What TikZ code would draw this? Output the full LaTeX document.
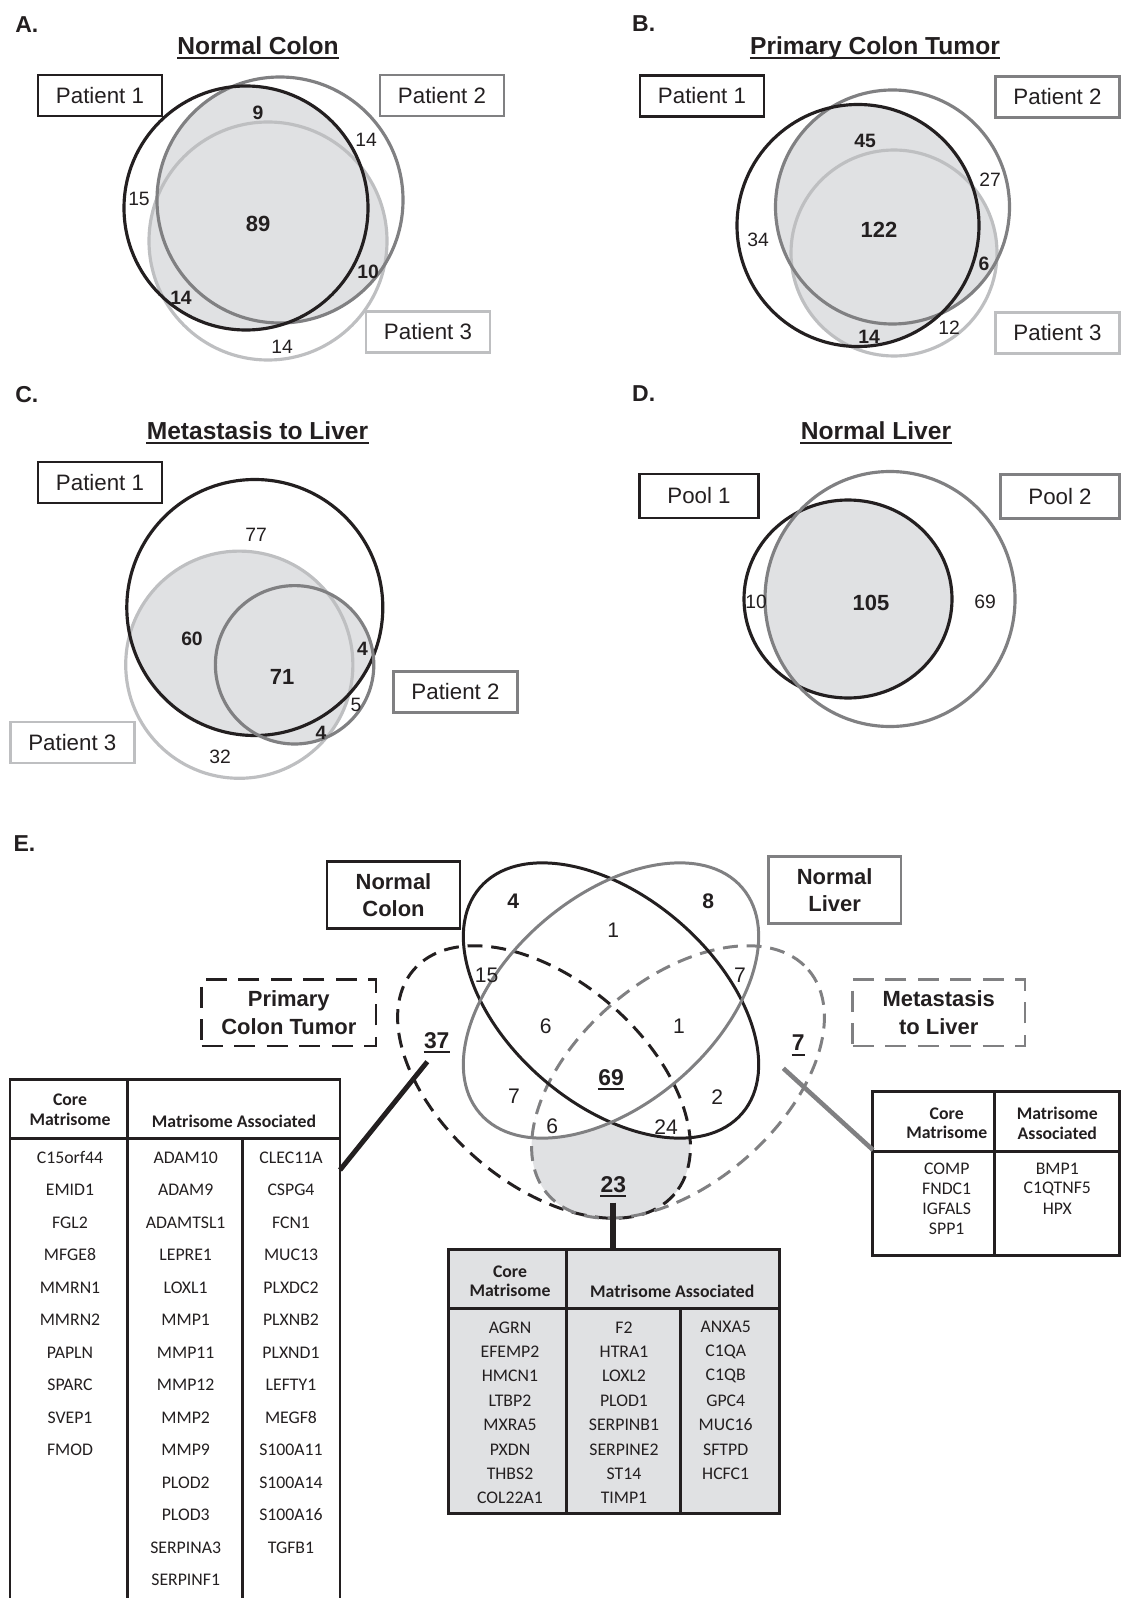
\documentclass[tikz,border=0pt]{standalone}
\usepackage{fontspec}
\setmainfont{Liberation Sans}
\newfontfamily\calib{Carlito}
\definecolor{cdk}{RGB}{35,31,32}
\definecolor{cmd}{RGB}{128,128,130}
\definecolor{clt}{RGB}{190,191,193}
\definecolor{cfill}{RGB}{224,225,227}
\newcommand{\ulnode}[3]{\draw[line width=#3,cdk] ([yshift=-#2]#1.base west) -- ([yshift=-#2]#1.base east);}
\begin{document}
\begin{tikzpicture}[x=0.02cm,y=-0.02cm,
  every node/.style={text=cdk},
  plet/.style={font=\bfseries\fontsize{13.1}{15}\selectfont, inner sep=0pt},
  ttl/.style={font=\bfseries\fontsize{14}{16}\selectfont, anchor=base, inner sep=0pt},
  pbox/.style={draw, line width=1.6pt, minimum width=2.48cm, minimum height=0.82cm, inner sep=0pt, font=\fontsize{12.7}{15}\selectfont},
  qbox/.style={pbox, minimum width=2.38cm, minimum height=0.88cm},
  num/.style={font=\fontsize{11}{13}\selectfont, inner sep=0pt},
  bnum/.style={font=\bfseries\fontsize{11}{13}\selectfont, inner sep=0pt},
  cnum/.style={font=\bfseries\fontsize{12.5}{14}\selectfont, inner sep=0pt},
  ven/.style={line width=1.8pt},
  even/.style={line width=1.7pt},
  enum/.style={font=\fontsize{12}{14}\selectfont, inner sep=0pt},
  ebnum/.style={font=\bfseries\fontsize{12}{14}\selectfont, inner sep=0pt},
  eunum/.style={font=\bfseries\fontsize{13}{15}\selectfont, inner sep=0pt, anchor=base},
  ebox/.style={draw, line width=1.6pt, align=center, inner sep=0pt, minimum height=1.33cm, font=\bfseries\fontsize{12.5}{15.5}\selectfont},
  bdash/.style={dash pattern=on 12pt off 6.5pt},
  edsh/.style={dash pattern=on 8.5pt off 5pt},
  tabtxt/.style={font=\calib\fontsize{10.1}{12}\selectfont, inner sep=0pt},
  tabhd/.style={font=\calib\bfseries\fontsize{10.1}{11.3}\selectfont, align=center, inner sep=0pt},
  tline/.style={line width=1.7pt, draw=cdk},
  rNC/.style={rotate around={-40.7:(611,1000.5)}},
  rNL/.style={rotate around={40.7:(611,1000.5)}},
  rPC/.style={rotate around={-40.7:(544,1082)}},
  rML/.style={rotate around={40.7:(678,1082)}}
]
\useasboundingbox (0,0) rectangle (1121,1598);

% ================= Panel A =================
\node[plet] (labA) at (26.8,25) {A.};
\node[ttl] (ttlA) at (258,55) {Normal Colon};
\ulnode{ttlA}{1.9pt}{1.1pt}
\def\cAa{(246,208) circle (122)}
\def\cAb{(280,200) circle (123)}
\def\cAc{(268,241) circle (119)}
\begin{scope}\clip \cAa; \fill[cfill] \cAb; \fill[cfill] \cAc; \end{scope}
\begin{scope}\clip \cAb; \fill[cfill] \cAc; \end{scope}
\draw[ven,clt] \cAc; \draw[ven,cmd] \cAb; \draw[ven,cdk] \cAa;
\node[pbox,draw=cdk] (A1) at (100,95.5) {Patient 1};
\node[pbox,draw=cmd] (A2) at (442,95.5) {Patient 2};
\node[pbox,draw=clt] (A3) at (428,332) {Patient 3};
\node[bnum] (a9) at (258,113) {9};
\node[num] (a14a) at (366,140) {14};
\node[num] (a15) at (139,199) {15};
\node[cnum] (a89) at (258,224) {89};
\node[bnum] (a10) at (368,272) {10};
\node[bnum] (a14b) at (181,298) {14};
\node[num] (a14c) at (282,347) {14};

% ================= Panel B =================
\node[plet] (labB) at (643.7,23.5) {B.};
\node[ttl] (ttlB) at (875,55) {Primary Colon Tumor};
\ulnode{ttlB}{1.9pt}{1.1pt}
\def\cBa{(858,225.5) circle (121)}
\def\cBb{(892.5,207) circle (117)}
\def\cBc{(894,253) circle (103)}
\begin{scope}\clip \cBa; \fill[cfill] \cBb; \fill[cfill] \cBc; \end{scope}
\begin{scope}\clip \cBb; \fill[cfill] \cBc; \end{scope}
\draw[ven,clt] \cBc; \draw[ven,cmd] \cBb; \draw[ven,cdk] \cBa;
\node[pbox,draw=cdk] (B1) at (702,96) {Patient 1};
\node[pbox,draw=cmd] (B2) at (1057.5,97) {Patient 2};
\node[pbox,draw=clt] (B3) at (1057.5,333) {Patient 3};
\node[bnum] (b45) at (865,141) {45};
\node[num] (b27) at (990,180) {27};
\node[num] (b34) at (758,240) {34};
\node[cnum] (b122) at (879,230) {122};
\node[bnum] (b6) at (984,264) {6};
\node[num] (b12) at (949,328) {12};
\node[bnum] (b14) at (869,337) {14};

% ================= Panel C =================
\node[plet] (labC) at (26.8,395) {C.};
\node[ttl] (ttlC) at (257.5,439.3) {Metastasis to Liver};
\ulnode{ttlC}{1.9pt}{1.1pt}
\def\cCa{(254.8,607.5) circle (128)}
\def\cCb{(294.6,664.8) circle (79.2)}
\def\cCc{(239.3,664.7) circle (113.6)}
\begin{scope}\clip \cCa; \fill[cfill] \cCb; \fill[cfill] \cCc; \end{scope}
\begin{scope}\clip \cCb; \fill[cfill] \cCc; \end{scope}
\draw[ven,clt] \cCc; \draw[ven,cdk] \cCa; \draw[ven,cmd] \cCb;
\node[pbox,draw=cdk] (C1) at (100,482.5) {Patient 1};
\node[pbox,draw=cmd] (C2) at (455.5,692) {Patient 2};
\node[pbox,draw=clt] (C3) at (72.3,742.5) {Patient 3};
\node[num] (c77) at (256,535) {77};
\node[bnum] (c60) at (192,639) {60};
\node[bnum] (c4a) at (362.5,649) {4};
\node[cnum] (c71) at (282,677) {71};
\node[num] (c5) at (356,705) {5};
\node[bnum] (c4b) at (321,733) {4};
\node[num] (c32) at (220,757) {32};

% ================= Panel D =================
\node[plet] (labD) at (643.7,393.5) {D.};
\node[ttl] (ttlD) at (876,439.3) {Normal Liver};
\ulnode{ttlD}{1.9pt}{1.1pt}
\def\cDa{(848,599) ellipse (104 and 99)}
\def\cDb{(890,599) ellipse (125 and 127.5)}
\begin{scope}\clip \cDa; \fill[cfill] \cDb; \end{scope}
\draw[ven,cdk] \cDa; \draw[ven,cmd] \cDb;
\node[qbox,draw=cdk] (D1) at (699,496) {Pool 1};
\node[qbox,draw=cmd] (D2) at (1060,496.5) {Pool 2};
\node[num] (d10) at (756,602) {10};
\node[cnum] (d105) at (871,603) {105};
\node[num] (d69) at (985,602) {69};

% ================= Panel E =================
\node[plet] (labE) at (24.5,844) {E.};
\begin{scope}
  \clip[rPC] (544,1082) ellipse (172 and 102);
  \clip[rML] (678,1082) ellipse (172 and 102);
  \fill[cfill] (380,900) rectangle (860,1260);
  \fill[white,rNC] (611,1000.5) ellipse (173 and 104);
  \fill[white,rNL] (611,1000.5) ellipse (173 and 104);
\end{scope}
\draw[even,cdk,edsh,rPC] (544,1082) ellipse (172 and 102);
\draw[even,cmd,edsh,rML] (678,1082) ellipse (172 and 102);
\draw[even,cdk,rNC] (611,1000.5) ellipse (173 and 104);
\draw[even,cmd,rNL] (611,1000.5) ellipse (173 and 104);

\node[ebox,draw=cdk,minimum width=2.66cm] (ENC) at (393.5,895) {Normal\\Colon};
\node[ebox,draw=cmd,minimum width=2.65cm] (ENL) at (834.7,890) {Normal\\Liver};
\node[ebox,draw=cdk,bdash,minimum width=3.49cm] (EPC) at (288.8,1012.7) {Primary\\Colon Tumor};
\node[ebox,draw=cmd,bdash,minimum width=3.45cm] (EML) at (938.8,1012.7) {Metastasis\\to Liver};

\node[ebnum] (e4) at (513.3,901) {4};
\node[ebnum] (e8) at (708.3,901) {8};
\node[enum] (e1a) at (613.3,930) {1};
\node[enum] (e15) at (486.7,975) {15};
\node[enum] (e7a) at (740,975) {7};
\node[enum] (e6a) at (545.7,1026.7) {6};
\node[enum] (e1b) at (679,1026.7) {1};
\node[eunum] (e69) at (611,1085.5) {69};
\node[eunum] (e37) at (436.7,1048.2) {37};
\node[eunum] (e7r) at (798.3,1050.9) {7};
\node[enum] (e7b) at (514,1096.7) {7};
\node[enum] (e2) at (717.3,1096.7) {2};
\node[enum] (e6b) at (552.3,1126.7) {6};
\node[enum] (e24) at (666,1126.7) {24};
\node[eunum] (e23) at (613.3,1192.5) {23};
\ulnode{e69}{2.2pt}{1.2pt}
\ulnode{e37}{2.2pt}{1.2pt}
\ulnode{e7r}{2.2pt}{1.2pt}
\ulnode{e23}{2.2pt}{1.2pt}

% ---------- left table ----------
\draw[tline] (10,1620) -- (10,1079.3) -- (340,1079.3) -- (340,1620);
\draw[tline] (127.7,1079.3) -- (127.7,1620);
\draw[tline] (10,1138.3) -- (340,1138.3);
\draw[tline] (242.3,1138.3) -- (242.3,1620);
\node[tabhd] (lh1) at (70,1110) {Core\\Matrisome};
\node[tabhd] (lh2) at (234,1121) {Matrisome Associated};
\foreach \t [count=\i from 0] in {C15orf44,EMID1,FGL2,MFGE8,MMRN1,MMRN2,PAPLN,SPARC,SVEP1,FMOD}
  {\node[tabtxt] (la\i) at (70,{1157.3+32.5*\i}) {\t};}
\foreach \t [count=\i from 0] in {ADAM10,ADAM9,ADAMTSL1,LEPRE1,LOXL1,MMP1,MMP11,MMP12,MMP2,MMP9,PLOD2,PLOD3,SERPINA3,SERPINF1}
  {\node[tabtxt] (lb\i) at (185.7,{1157.3+32.5*\i}) {\t};}
\foreach \t [count=\i from 0] in {CLEC11A,CSPG4,FCN1,MUC13,PLXDC2,PLXNB2,PLXND1,LEFTY1,MEGF8,S100A11,S100A14,S100A16,TGFB1}
  {\node[tabtxt] (lc\i) at (291,{1157.3+32.5*\i}) {\t};}

% ---------- right table ----------
\draw[tline] (872.7,1091) rectangle (1119.3,1255);
\draw[tline] (872.7,1151.7) -- (1119.3,1151.7);
\draw[tline] (994.3,1091) -- (994.3,1255);
\node[tabhd] (rh1) at (946.7,1123.3) {Core\\Matrisome};
\node[tabhd] (rh2) at (1057.3,1123.3) {Matrisome\\Associated};
\foreach \t [count=\i from 0] in {COMP,FNDC1,IGFALS,SPP1}
  {\node[tabtxt] (ra\i) at (946.7,{1168.3+20.3*\i}) {\t};}
\foreach \t [count=\i from 0] in {BMP1,C1QTNF5,HPX}
  {\node[tabtxt] (rb\i) at (1057.3,{1168.3+20.3*\i}) {\t};}

% ---------- middle table ----------
\filldraw[tline,fill=cfill] (448.3,1249.3) rectangle (779.3,1513.3);
\draw[tline] (448.3,1308.3) -- (779.3,1308.3);
\draw[tline] (566.7,1249.3) -- (566.7,1513.3);
\draw[tline] (680,1308.3) -- (680,1513.3);
\node[tabhd] (mh1) at (510,1281.2) {Core\\Matrisome};
\node[tabhd] (mh2) at (672.3,1291.7) {Matrisome Associated};
\foreach \t [count=\i from 0] in {AGRN,EFEMP2,HMCN1,LTBP2,MXRA5,PXDN,THBS2,COL22A1}
  {\node[tabtxt] (ma\i) at (510,{1327.3+24.4*\i}) {\t};}
\foreach \t [count=\i from 0] in {F2,HTRA1,LOXL2,PLOD1,SERPINB1,SERPINE2,ST14,TIMP1}
  {\node[tabtxt] (mb\i) at (624,{1327.3+24.4*\i}) {\t};}
\foreach \t [count=\i from 0] in {ANXA5,C1QA,C1QB,GPC4,MUC16,SFTPD,HCFC1}
  {\node[tabtxt] (mc\i) at (725.7,{1327.3+24.4*\i}) {\t};}

% ---------- connectors ----------
\coordinate (lcA) at (427.3,1061.7);
\coordinate (lcB) at (340,1170);
\draw[line width=2.8pt,cdk] (lcA) -- (lcB);
\coordinate (rcA) at (783.3,1068.3);
\coordinate (rcB) at (873,1150);
\draw[line width=2.6pt,cmd] (rcA) -- (rcB);
\coordinate (mcA) at (613.3,1202.7);
\coordinate (mcB) at (613.3,1249.3);
\draw[line width=3.3pt,cdk] (mcA) -- (mcB);
\end{tikzpicture}
\end{document}
